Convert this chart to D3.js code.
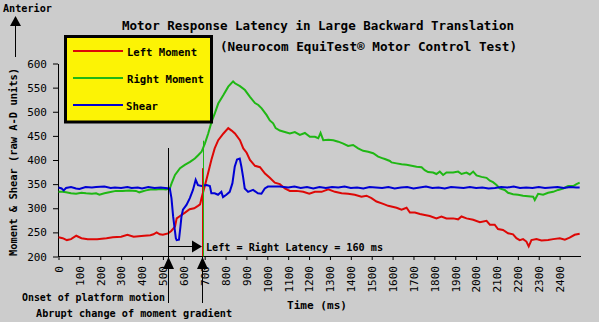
<!DOCTYPE html>
<html>
<head>
<meta charset="utf-8">
<script src="https://cdn.jsdelivr.net/npm/d3@7"></script>
<style>
  html, body { margin: 0; padding: 0; background: #cccccc; }
  svg { display: block; }
  .bold { font-family: "DejaVu Sans Mono", monospace; font-weight: bold; fill: #000; }
  .tick text { font-family: "DejaVu Sans Mono", monospace; font-size: 11px; fill: #000; }
  .tick line, .domain { stroke: #000; stroke-width: 1; }
</style>
</head>
<body>
<svg id="chart" width="599" height="322"></svg>
<script>
// ---- Data (time in ms, raw A-D units) ----
const leftMoment = [
  [0,240],[20,238],[40,234],[60,236],[85,243],[110,238],[140,236],[185,236],[230,238],[260,240],
  [300,241],[330,245],[360,241],[410,243],[440,244],[455,246],[470,250],[485,246],[500,245],[525,248],
  [540,253],[558,262],[566,279],[582,284],[606,291],[628,298],[650,300],[668,305],[678,308],[685,321],
  [700,345],[716,372],[732,400],[748,424],[765,441],[790,455],[813,466],[829,461],[845,455],[869,441],
  [885,424],[901,415],[917,400],[941,388],[965,385],[989,372],[1012,363],[1036,353],[1060,350],[1084,341],
  [1108,336],[1140,336],[1172,334],[1201,330],[1228,334],[1260,334],[1292,339],[1324,334],[1356,331],[1387,330],
  [1419,328],[1451,324],[1475,326],[1499,321],[1523,314],[1555,309],[1579,305],[1619,301],[1643,297],[1667,301],
  [1683,291],[1707,291],[1731,288],[1754,286],[1778,284],[1810,279],[1834,283],[1858,279],[1890,279],[1914,277],
  [1930,283],[1954,279],[1986,276],[2018,271],[2050,274],[2066,266],[2089,266],[2105,257],[2129,255],[2153,248],
  [2177,246],[2193,238],[2209,234],[2225,236],[2241,231],[2252,221],[2265,234],[2289,236],[2313,233],[2345,234],
  [2369,236],[2401,238],[2425,235],[2448,239],[2472,245],[2496,247]
];

const rightMoment = [
  [0,334],[20,334],[36,333],[60,331],[84,330],[110,332],[132,331],[160,330],[180,331],[196,328],
  [220,331],[243,333],[275,336],[307,336],[339,337],[371,336],[387,333],[419,337],[440,339],[467,339],
  [490,340],[515,339],[533,341],[542,352],[558,369],[582,383],[605,390],[630,396],[653,403],[669,410],
  [685,417],[701,434],[717,455],[733,479],[749,497],[765,517],[789,534],[813,552],[836,563],[845,559],
  [869,553],[893,545],[917,531],[941,518],[957,514],[973,507],[997,493],[1012,482],[1028,476],[1040,466],
  [1060,461],[1084,458],[1108,455],[1132,458],[1156,452],[1180,456],[1204,448],[1228,448],[1244,445],[1255,456],
  [1268,441],[1292,442],[1316,441],[1340,438],[1364,434],[1387,429],[1411,431],[1435,424],[1459,419],[1483,417],
  [1507,414],[1531,407],[1550,404],[1563,402],[1587,398],[1595,395],[1619,393],[1643,391],[1667,390],[1691,388],
  [1715,386],[1739,385],[1754,379],[1770,375],[1794,374],[1810,371],[1826,376],[1842,369],[1858,374],[1890,374],
  [1914,376],[1930,371],[1954,374],[1970,370],[1986,376],[2002,368],[2026,365],[2050,363],[2066,357],[2081,354],
  [2098,348],[2113,341],[2137,338],[2153,332],[2177,329],[2201,328],[2225,326],[2249,325],[2273,324],[2281,317],
  [2297,330],[2321,328],[2345,332],[2369,334],[2393,338],[2417,341],[2441,346],[2465,346],[2481,350],[2496,353]
];

const shear = [
  [0,343],[15,341],[25,337],[36,342],[60,344],[84,341],[100,340],[130,344],[160,343],[180,344],
  [220,345],[250,342],[270,343],[300,342],[330,344],[350,342],[380,343],[400,341],[430,344],[460,342],
  [490,343],[510,342],[533,341],[541,321],[549,283],[557,255],[562,238],[566,234],[577,235],[584,262],
  [589,283],[596,297],[613,307],[629,321],[644,338],[657,359],[668,348],[685,346],[709,348],[725,346],
  [732,331],[748,331],[764,328],[780,334],[788,323],[804,328],[820,334],[833,352],[844,386],[855,401],
  [868,403],[876,386],[884,365],[892,341],[908,334],[932,338],[955,331],[972,330],[988,341],[1003,345],
  [1059,345],[1100,343],[1130,345],[1160,342],[1190,344],[1220,341],[1250,344],[1280,342],[1310,344],[1340,343],
  [1370,345],[1400,342],[1430,343],[1460,341],[1490,344],[1520,343],[1550,342],[1580,344],[1610,341],[1640,343],
  [1670,344],[1700,341],[1730,343],[1760,345],[1790,342],[1820,343],[1850,341],[1880,344],[1910,343],[1940,342],
  [1970,344],[2000,342],[2030,343],[2060,341],[2090,342],[2120,344],[2150,343],[2180,345],[2210,342],[2240,343],
  [2270,342],[2300,344],[2330,342],[2360,343],[2390,344],[2420,342],[2450,344],[2480,343],[2496,343]
];

const seriesNames = ["Left Moment", "Right Moment", "Shear"];
const seriesColors = ["#dd0806", "#1fb714", "#0000d4"];

const xTicks = d3.range(0, 2401, 100);
const yTicks = [200, 250, 300, 350, 400, 450, 500, 550, 600];

const onsetTime = 525;      // onset of platform motion (ms)
const latency = 160;        // left = right latency (ms)
const responseTime = onsetTime + latency;
const rightMarkerTop = 440; // top of right-moment latency marker (units)
const leftMarkerTop = 383;  // top of left-moment latency marker (units)

// ---- Layout ----
const svg = d3.select("#chart");
const x = d3.scaleLinear().domain([0, 2500]).range([58.5, 580.5]);
const y = d3.scaleLinear().domain([200, 600]).range([256.5, 63.5]);

svg.append("rect").attr("width", 599).attr("height", 322).attr("fill", "#cccccc");

// Axes
svg.append("g")
  .attr("transform", `translate(${x(0) - 0.5},0)`)
  .call(d3.axisLeft(y).tickValues(yTicks).tickSize(5).tickSizeOuter(0).tickPadding(6));

const xAxis = svg.append("g")
  .attr("transform", `translate(0,${y(200) - 0.5})`)
  .call(d3.axisBottom(x).tickValues(xTicks).tickFormat(d3.format("d"))
    .tickSize(4).tickSizeOuter(0));
xAxis.selectAll(".tick text")
  .attr("transform", "rotate(-90)")
  .attr("x", -10)
  .attr("y", 0)
  .attr("dy", "0.35em")
  .style("text-anchor", "end");

// Series lines
const line = d3.line().x(d => x(d[0])).y(d => y(d[1]));
[leftMoment, rightMoment, shear].forEach((data, i) => {
  svg.append("path")
    .datum(data)
    .attr("fill", "none")
    .attr("stroke", seriesColors[i])
    .attr("stroke-width", 2)
    .attr("stroke-linejoin", "miter")
    .attr("d", line);
});

// Latency markers
const xr = Math.round(x(responseTime));
const xo = Math.round(x(onsetTime)) + 0.5;
svg.append("line")
  .attr("x1", xr + 1.5).attr("x2", xr + 1.5)
  .attr("y1", y(rightMarkerTop)).attr("y2", y(200))
  .attr("stroke", seriesColors[1]).attr("stroke-width", 1);
svg.append("line")
  .attr("x1", xr + 0.5).attr("x2", xr + 0.5)
  .attr("y1", y(leftMarkerTop)).attr("y2", y(200))
  .attr("stroke", seriesColors[0]).attr("stroke-width", 1);

// Onset line through the plot and below the axis
svg.append("line")
  .attr("x1", xo).attr("x2", xo)
  .attr("y1", 148).attr("y2", 303)
  .attr("stroke", "#000").attr("stroke-width", 1);
svg.append("line")
  .attr("x1", xr + 0.5).attr("x2", xr + 0.5)
  .attr("y1", y(200)).attr("y2", 303)
  .attr("stroke", "#000").attr("stroke-width", 1);

// Upward triangles under the axis
[xo, xr + 0.5].forEach(cx => {
  svg.append("path")
    .attr("d", `M${cx},257 L${cx + 5.5},269 L${cx - 5.5},269 Z`)
    .attr("fill", "#000");
});

// Latency arrow
const arrowY = 246.5;
svg.append("line")
  .attr("x1", xo).attr("x2", xr - 9)
  .attr("y1", arrowY).attr("y2", arrowY)
  .attr("stroke", "#000").attr("stroke-width", 1);
svg.append("path")
  .attr("d", `M${xr - 10},${arrowY - 6} L${xr},${arrowY} L${xr - 10},${arrowY + 6} Z`)
  .attr("fill", "#000");
svg.append("text").attr("class", "bold")
  .attr("x", xr + 4).attr("y", 250.5)
  .attr("font-size", 10)
  .attr("textLength", 177).attr("lengthAdjust", "spacingAndGlyphs")
  .text(`Left = Right Latency = ${latency} ms`);

// Titles
svg.append("text").attr("class", "bold")
  .attr("x", 122).attr("y", 30)
  .attr("font-size", 12.5)
  .attr("textLength", 392).attr("lengthAdjust", "spacingAndGlyphs")
  .text("Motor Response Latency in Large Backward Translation");
svg.append("text").attr("class", "bold")
  .attr("x", 220).attr("y", 51)
  .attr("font-size", 12.5)
  .attr("textLength", 297).attr("lengthAdjust", "spacingAndGlyphs")
  .text("(Neurocom EquiTest\u00ae Motor Control Test)");

// Axis titles
svg.append("text").attr("class", "bold")
  .attr("x", 3).attr("y", 12)
  .attr("font-size", 10.5)
  .attr("textLength", 49).attr("lengthAdjust", "spacingAndGlyphs")
  .text("Anterior");
svg.append("path")
  .attr("d", "M15.5,16 L21,26 L10,26 Z")
  .attr("fill", "#000");
svg.append("line")
  .attr("x1", 15.5).attr("x2", 15.5).attr("y1", 26).attr("y2", 57)
  .attr("stroke", "#000").attr("stroke-width", 1);
svg.append("text").attr("class", "bold")
  .attr("transform", "translate(17,256) rotate(-90)")
  .attr("font-size", 10.5)
  .attr("textLength", 188).attr("lengthAdjust", "spacingAndGlyphs")
  .text("Moment & Shear (raw A-D units)");

svg.append("text").attr("class", "bold")
  .attr("x", 287).attr("y", 309)
  .attr("font-size", 11)
  .attr("textLength", 60).attr("lengthAdjust", "spacingAndGlyphs")
  .text("Time (ms)");

svg.append("text").attr("class", "bold")
  .attr("x", 22).attr("y", 300.5)
  .attr("font-size", 10)
  .attr("textLength", 143).attr("lengthAdjust", "spacingAndGlyphs")
  .text("Onset of platform motion");
svg.append("text").attr("class", "bold")
  .attr("x", 36).attr("y", 316.5)
  .attr("font-size", 10)
  .attr("textLength", 196).attr("lengthAdjust", "spacingAndGlyphs")
  .text("Abrupt change of moment gradient");

// Legend
const legend = svg.append("g");
legend.append("rect")
  .attr("x", 65.5).attr("y", 36.5).attr("width", 146).attr("height", 85.5)
  .attr("fill", "#fcf305").attr("stroke", "#000").attr("stroke-width", 3);
const legendWidths = [70, 77, 32];
seriesNames.forEach((name, i) => {
  const ly = 51 + i * 27;
  legend.append("line")
    .attr("x1", 73).attr("x2", 123).attr("y1", ly).attr("y2", ly)
    .attr("stroke", seriesColors[i]).attr("stroke-width", 2);
  legend.append("text").attr("class", "bold")
    .attr("x", i === 2 ? 126 : 127).attr("y", ly + 5)
    .attr("font-size", 10.8)
    .attr("textLength", legendWidths[i]).attr("lengthAdjust", "spacingAndGlyphs")
    .text(name);
});
</script>
</body>
</html>
